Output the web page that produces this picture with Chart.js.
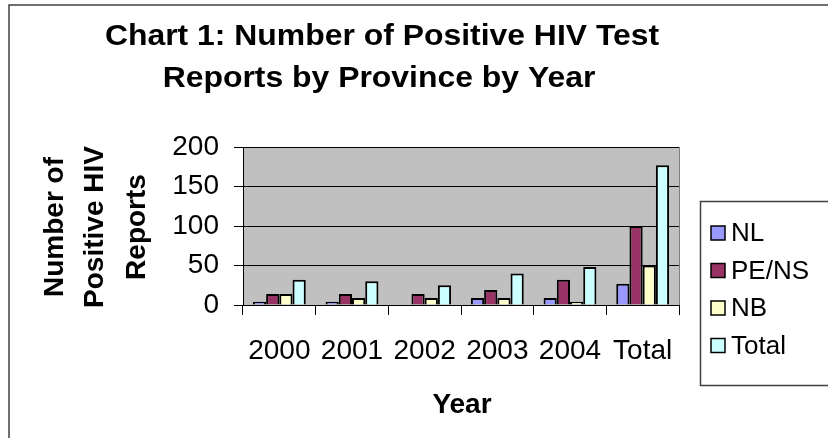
<!DOCTYPE html>
<html>
<head>
<meta charset="utf-8">
<script src="https://cdn.jsdelivr.net/npm/chart.js@4.4.1/dist/chart.umd.min.js"></script>
<style>
    html, body { margin: 0; padding: 0; background: #fff; }
    #chart { display: block; }
</style>
</head>
<body>
<canvas id="chart" width="828" height="438"></canvas>
<script>
// Chart data
const years = ['2000', '2001', '2002', '2003', '2004', 'Total'];
const nlReports = [4, 4, 0, 9, 9, 27];
const peNsReports = [14, 14, 14, 19, 32, 100];
const nbReports = [14, 9, 9, 9, 4, 50];
const totalReports = [32, 30, 25, 40, 48, 177];
const yTicks = [0, 50, 100, 150, 200];

const FONT = '"Liberation Sans", Arial, sans-serif';

// Grey plot background + outer frame
const backgroundPlugin = {
    id: 'background',
    beforeDraw(chart) {
        const { ctx, chartArea: a } = chart;
        ctx.save();
        ctx.fillStyle = '#fff';
        ctx.fillRect(0, 0, chart.width, chart.height);
        ctx.fillStyle = '#c0c0c0';
        ctx.fillRect(a.left, a.top, a.right - a.left, a.bottom - a.top);
        ctx.strokeStyle = '#808080';
        ctx.lineWidth = 1;
        ctx.beginPath();
        ctx.moveTo(a.right + 0.5, a.top);
        ctx.lineTo(a.right + 0.5, a.bottom);
        ctx.stroke();
        // outer chart border
        ctx.strokeStyle = '#404040';
        ctx.lineWidth = 1.5;
        ctx.strokeRect(9, 5, 830, 440);
        ctx.restore();
    }
};

// Titles and legend box
const textPlugin = {
    id: 'texts',
    afterDraw(chart) {
        const ctx = chart.ctx;
        ctx.save();
        ctx.fillStyle = '#000';
        ctx.textAlign = 'center';
        ctx.textBaseline = 'alphabetic';

        // main title (slightly wide, like the original)
        ctx.font = 'bold 29px ' + FONT;
        [['Chart 1: Number of Positive HIV Test', 382, 45],
         ['Reports by Province by Year', 379, 87]].forEach(([t, x, y]) => {
            ctx.save();
            ctx.translate(x, y);
            ctx.scale(1.1, 1);
            ctx.fillText(t, 0, 0);
            ctx.restore();
        });

        // x axis title
        ctx.font = 'bold 28px ' + FONT;
        ctx.fillText('Year', 462, 413);

        // y axis title (rotated)
        const yLines = ['Number of', 'Positive HIV', 'Reports'];
        const yCols = [63, 103, 145];
        yLines.forEach((line, i) => {
            ctx.save();
            ctx.translate(yCols[i], 227);
            ctx.rotate(-Math.PI / 2);
            ctx.fillText(line, 0, 0);
            ctx.restore();
        });

        // legend
        ctx.strokeStyle = '#404040';
        ctx.lineWidth = 1.5;
        ctx.strokeRect(700.5, 201.5, 140, 184);
        ctx.textAlign = 'left';
        ctx.textBaseline = 'middle';
        ctx.font = '26px ' + FONT;
        chart.data.datasets.forEach((ds, i) => {
            const cy = 233 + i * 37.5;
            ctx.fillStyle = ds.backgroundColor;
            ctx.fillRect(711, cy - 7, 14, 14);
            ctx.strokeStyle = '#000';
            ctx.lineWidth = 1.5;
            ctx.strokeRect(711, cy - 7, 14, 14);
            ctx.fillStyle = '#000';
            ctx.fillText(ds.label, 731, cy + 1);
        });
        ctx.restore();
    }
};

const ctx = document.getElementById('chart').getContext('2d');
const chart = new Chart(ctx, {
    type: 'bar',
    data: {
        labels: years,
        datasets: [
            { label: 'NL', data: nlReports, backgroundColor: '#9999ff' },
            { label: 'PE/NS', data: peNsReports, backgroundColor: '#993366' },
            { label: 'NB', data: nbReports, backgroundColor: '#ffffcc' },
            { label: 'Total', data: totalReports, backgroundColor: '#ccffff' }
        ].map(ds => Object.assign(ds, {
            borderColor: '#000',
            borderWidth: 2,
            borderSkipped: 'bottom',
            categoryPercentage: 4 / 5.5,
            barPercentage: 1
        }))
    },
    options: {
        responsive: false,
        animation: false,
        devicePixelRatio: 1,
        layout: { padding: { left: 0, top: 147, right: 149, bottom: 0 } },
        plugins: {
            legend: { display: false },
            title: { display: false },
            tooltip: { enabled: false }
        },
        scales: {
            x: {
                grid: {
                    offset: true,
                    drawOnChartArea: false,
                    drawTicks: true,
                    tickLength: 10,
                    color: '#000'
                },
                border: { display: true, color: '#000', width: 1 },
                ticks: {
                    color: '#000',
                    font: { family: FONT, size: 28 },
                    padding: 19,
                    maxRotation: 0,
                    autoSkip: false
                },
                afterFit: s => { s.height = 133; }
            },
            y: {
                min: 0,
                max: 200,
                afterBuildTicks: s => { s.ticks = yTicks.map(v => ({ value: v })); },
                grid: { color: '#000', tickLength: 9 },
                border: { display: true, color: '#000', width: 1 },
                ticks: {
                    color: '#000',
                    font: { family: FONT, size: 28 },
                    padding: 15
                },
                afterFit: s => { s.width = 243; }
            }
        }
    },
    plugins: [backgroundPlugin, textPlugin]
});
</script>
</body>
</html>
